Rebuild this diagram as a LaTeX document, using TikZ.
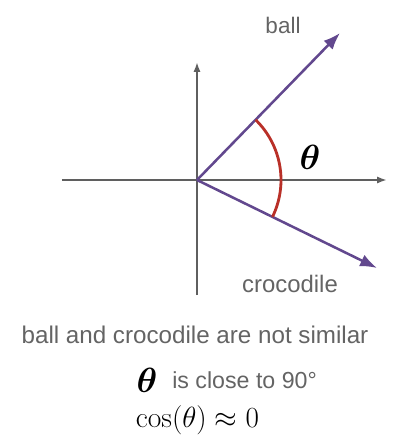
\documentclass[tikz,border=0pt]{standalone}
\usepackage{fontspec}
\usepackage{amsmath}
\usepackage{bm}
\setsansfont{Liberation Sans}
\usetikzlibrary{arrows.meta}
\definecolor{vecpurple}{RGB}{98,72,142}
\definecolor{arcred}{RGB}{185,48,40}
\definecolor{axisgray}{RGB}{95,95,95}
\definecolor{textgray}{RGB}{100,100,100}
\tikzset{
  axis/.style={draw=axisgray, line width=1.3pt, -{Latex[length=7pt,width=5pt]}},
  vec/.style={draw=vecpurple, line width=1.8pt, -{Latex[length=12pt,width=9pt]}},
  word/.style={font=\sffamily\fontsize{16}{19}\selectfont, text=textgray, inner sep=0pt}
}

\begin{document}
\begin{tikzpicture}
            \useasboundingbox (-4.925,-6.5) rectangle (5.025,4.5);

            \coordinate (o) at (0,0);
            \coordinate (xl) at (-3.375,0);
            \coordinate (xr) at (4.75,0);
            \coordinate (yb) at (0,-2.875);
            \coordinate (yt) at (0,2.95);
            \coordinate (ball) at (3.575,3.675);
            \coordinate (croc) at (4.5,-2.2);

            \draw[axis] (xl) -> (xr);
            \draw[axis] (yb) -> (yt);
            \draw[vec] (o) -> (ball);
            \draw[vec] (o) -> (croc);
            \draw[arcred, line width=2pt] (45.8:2.1) arc (45.8:-26:2.1);

            \node[word] (balllabel) at (2.15,3.875) {ball};
            \node[word, font=\sffamily\fontsize{17}{20}\selectfont] (croclabel) at (2.325,-2.6) {crocodile};
            \node[inner sep=0pt] (theta) at (2.825,0.575) {\fontsize{32}{36}\selectfont$\bm{\theta}$};

            \node[word, font=\sffamily\fontsize{17.2}{20}\selectfont] (similar) at (-0.05,-3.875) {ball and crocodile are not similar};
            \node[inner sep=0pt] (thetasmall) at (-1.25,-5.0) {\fontsize{26}{30}\selectfont$\bm{\theta}$};
            \node[word, font=\sffamily\fontsize{16.5}{19}\selectfont, anchor=west] (close) at (-0.625,-5.0) {is close to 90°};
            \node[inner sep=0pt] (cosine) at (0.0125,-6.0) {\fontsize{21}{24}\selectfont$\cos(\theta)\approx 0$};
        \end{tikzpicture}
\end{document}
